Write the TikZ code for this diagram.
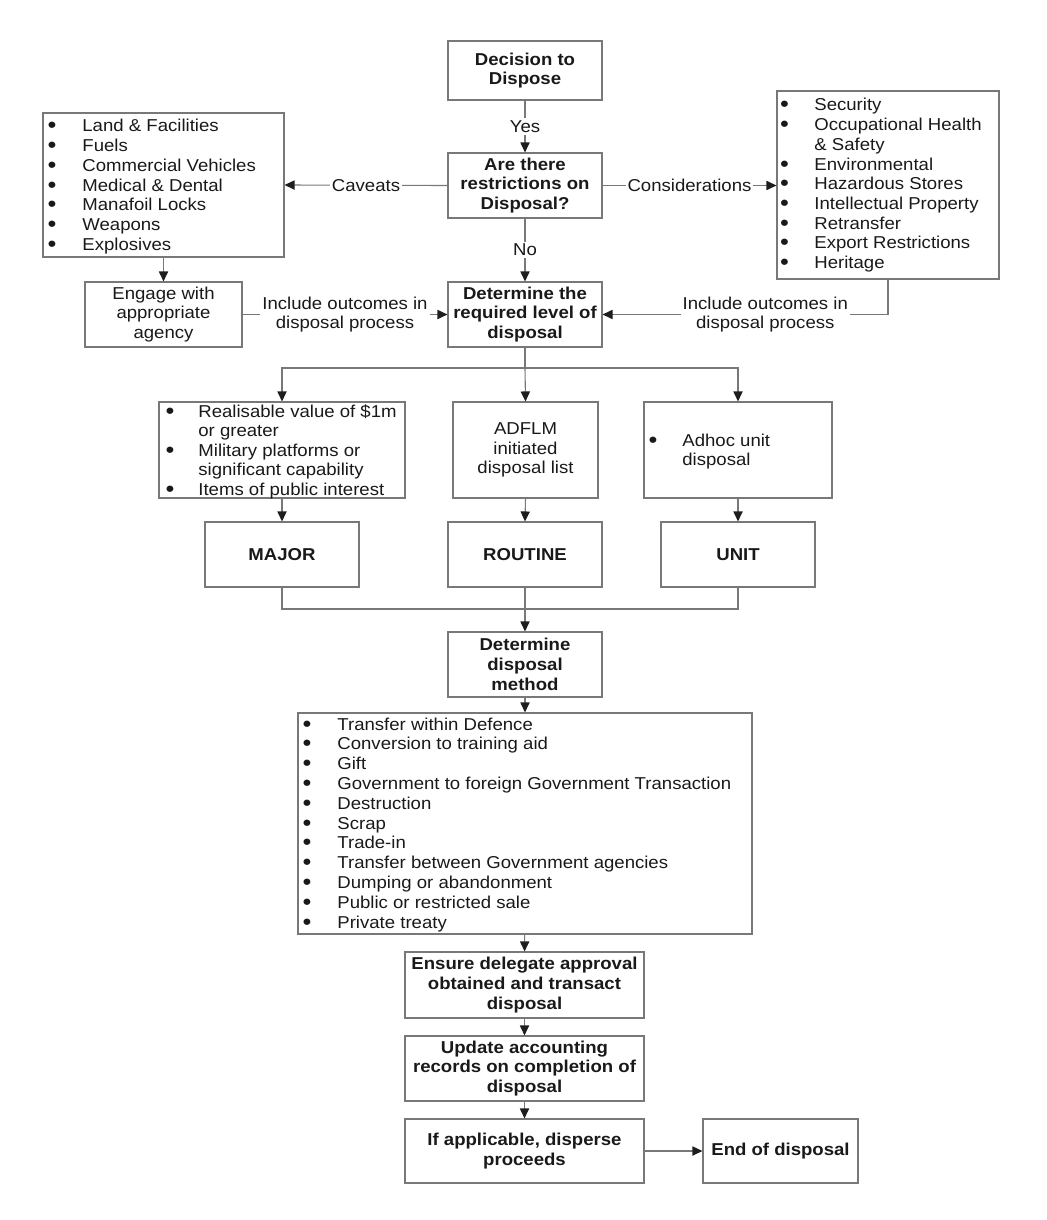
\documentclass[tikz,border=0pt]{standalone}
\usepackage{fontspec}
\setmainfont{Liberation Sans}[FakeStretch=1.08]
\usetikzlibrary{arrows.meta,calc}
\definecolor{lncol}{RGB}{120,120,120}
\definecolor{txcol}{RGB}{25,25,25}
\definecolor{arcol}{RGB}{30,30,30}
\tikzset{
 every node/.style={font=\fontsize{8.6}{9.85}\selectfont, text=txcol},
 boxst/.style={draw=lncol, line width=0.55pt, inner sep=0pt, align=center},
 bld/.style={font=\fontsize{8.6}{9.85}\selectfont\bfseries},
 conn/.style={draw=lncol, line width=0.55pt},
 arr/.style={conn, -{Triangle[length=5pt,width=4.6pt,color=arcol]}},
 lbl/.style={fill=white, inner sep=1pt, align=center},
 itemst/.style={anchor=base west, inner sep=0pt},
 bulst/.style={anchor=base, inner sep=0pt, font=\fontsize{11}{11}\selectfont\bfseries},
}
% [style]{x1}{y1}{x2}{y2}{text}{name}
\newcommand\mkbox[7][]{%
 \node[boxst,#1,minimum width={(#4-#2)*0.5pt},minimum height={(#5-#3)*0.5pt}] (#7) at ({(#2+#4)/2},{(#3+#5)/2}) {#6};}
\begin{document}
\begin{tikzpicture}[x=0.5pt,y=-0.5pt]
\useasboundingbox (0,0) rectangle (1046,1220);

% central column
\mkbox[bld]{448}{41}{602}{100}{Decision to\\Dispose}{dec}
\mkbox[bld]{448}{153}{602}{218}{Are there\\restrictions on\\Disposal?}{restr}
\mkbox[bld]{448}{282}{602}{347}{Determine the\\required level of\\disposal}{det}

% caveats list
\mkbox{43}{113}{284}{257}{}{cav}
\foreach \t [count=\i from 0] in {Land \& Facilities, Fuels, Commercial Vehicles, Medical \& Dental, Manafoil Locks, Weapons, Explosives}{
  \node[bulst] (cavb\i) at (52,{126+\i*19.7+7}) {•};
  \node[itemst] (cavt\i) at (82,{126+\i*19.7+6}) {\t};
}
\mkbox{85}{282}{242}{347}{Engage with\\appropriate\\agency}{eng}

% considerations list
\mkbox{777}{91}{999}{279}{}{cons}
\foreach \t/\k in {Security/0, Occupational Health/1, Environmental/3, Hazardous Stores/4, Intellectual Property/5, Retransfer/6, Export Restrictions/7, Heritage/8}{
  \node[bulst] (consb\k) at (784.5,{105+\k*19.7+7}) {•};
  \node[itemst] (const\k) at (814,{105+\k*19.7+6}) {\t};
}
\node[itemst] (const2) at (814,{105+2*19.7+6}) {\& Safety};

% level boxes
\mkbox{159}{402}{405}{498}{}{majl}
\node[bulst] (majb1) at (170,{411+7}) {•};
\node[itemst] (majt1) at (198,{411+6}) {Realisable value of \$1m};
\node[itemst] (majt2) at (198,{430.5+6}) {or greater};
\node[bulst] (majb3) at (170,{450+7}) {•};
\node[itemst] (majt3) at (198,{450+6}) {Military platforms or};
\node[itemst] (majt4) at (198,{469.5+6}) {significant capability};
\node[bulst] (majb5) at (170,{489+7}) {•};
\node[itemst] (majt5) at (198,{489+6}) {Items of public interest};

\mkbox{453}{402}{598}{498}{ADFLM\\initiated\\disposal list}{adf}

\mkbox{644}{402}{832}{498}{}{adh}
\node[bulst] (adhb) at (653,{440+7}) {•};
\node[itemst] (adht1) at (682,{440+6}) {Adhoc unit};
\node[itemst] (adht2) at (682,{459.5+6}) {disposal};

\mkbox[bld]{205}{522}{359}{587}{MAJOR}{majb}
\mkbox[bld]{448}{522}{602}{587}{ROUTINE}{routb}
\mkbox[bld]{661}{522}{815}{587}{UNIT}{unitb}

\mkbox[bld]{448}{632}{602}{697}{Determine\\disposal\\method}{meth}

% methods list
\mkbox{298}{713}{752}{934}{}{mlist}
\foreach \t [count=\i from 0] in {Transfer within Defence, Conversion to training aid, Gift, Government to foreign Government Transaction, Destruction, Scrap, Trade-in, Transfer between Government agencies, Dumping or abandonment, Public or restricted sale, Private treaty}{
  \node[bulst] (mb\i) at (307,{724+\i*19.8+7}) {•};
  \node[itemst] (mt\i) at (337,{724+\i*19.8+6}) {\t};
}

\mkbox[bld]{405}{952}{644}{1018}{Ensure delegate approval\\obtained and transact\\disposal}{ens}
\mkbox[bld]{405}{1036}{644}{1101}{Update accounting\\records on completion of\\disposal}{upd}
\mkbox[bld]{405}{1119}{644}{1183}{If applicable, disperse\\proceeds}{ifa}
\mkbox[bld]{703}{1119}{858}{1183}{End of disposal}{endd}

% connectors
\draw[arr] (dec) -- node[lbl] (yes) {Yes} (restr);
\draw[arr] (restr) -- node[lbl] (no) {No} (det);
\draw[arr] (restr.west) -- node[lbl] (cavl) {Caveats} (cav.east);
\draw[arr] (restr.east) -- node[lbl] (consl) {Considerations} (restr.east -| cons.west);
\draw[arr] (cav.south) -- (eng.north);
\draw[arr] (eng.east) -- node[lbl] (inl) {Include outcomes in\\disposal process} (det.west);
\draw[arr] (cons.south) |- node[lbl,pos=0.715] (inr) {Include outcomes in\\disposal process} (det.east);

\coordinate (br) at (525,368);
\draw[conn] (det.south) -- (br);
\draw[arr] (br) -| (majl.north);
\draw[arr] (br) -- (adf.north);
\draw[arr] (br) -| (adh.north);
\draw[arr] (majl.south) -- (majb.north);
\draw[arr] (adf.south) -- (routb.north);
\draw[arr] (adh.south) -- (unitb.north);

\coordinate (mg) at (525,609);
\draw[conn] (majb.south) |- (mg) -| (unitb.south);
\draw[arr] (routb.south) -- (meth.north);
\draw[arr] (meth) -- (mlist);
\draw[arr] (mlist) -- (ens);
\draw[arr] (ens) -- (upd);
\draw[arr] (upd) -- (ifa);
\draw[arr] (ifa) -- (endd);
\end{tikzpicture}
\end{document}
